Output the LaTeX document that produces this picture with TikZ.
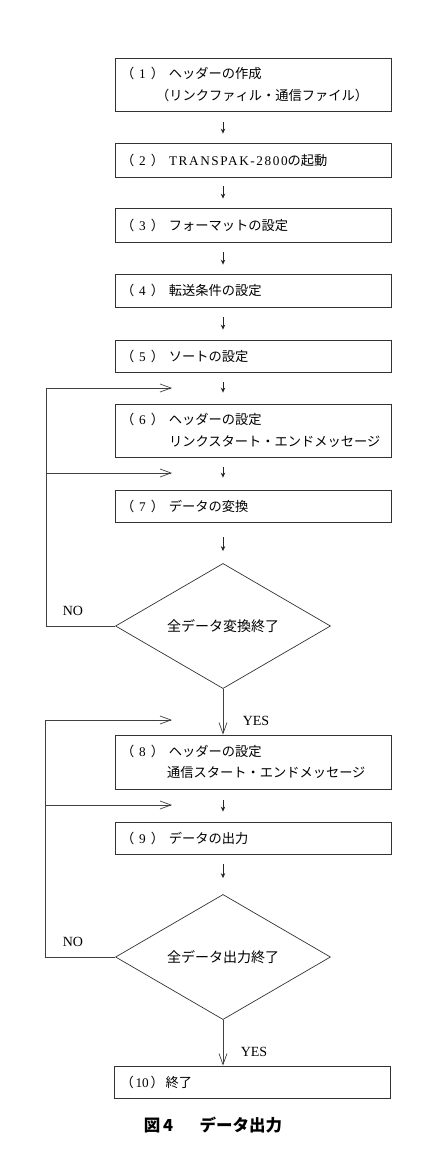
\documentclass[tikz,border=0pt]{standalone}
\usepackage{fontspec}
\setmainfont{Liberation Serif}
\newfontfamily\cjk{Noto Sans CJK JP}
\usetikzlibrary{shapes.geometric,arrows.meta}
\newcommand\pre[1]{\makebox[48pt][l]{（\hfil{\rmfamily #1}\hfil）}}
\tikzset{
  box/.style={draw=black!80, line width=0.8pt, rectangle, minimum width=276pt,
    text width=264pt, inner xsep=6pt, inner ysep=2pt, align=left,
    font=\cjk\fontsize{13.25}{21.5}\selectfont},
  dec/.style={draw=black!80, line width=0.7pt, diamond, minimum width=215pt,
    minimum height=124pt, inner sep=0pt, font=\cjk\fontsize{14}{16}\selectfont},
  flow/.style={draw=black!85, line width=0.8pt, -{Stealth[length=5pt,width=4.5pt]}},
  back/.style={draw=black!75, line width=0.7pt, -{Straight Barb[length=11pt,width=8pt]}},
  lbl/.style={font=\fontsize{14}{16}\selectfont}
}
\begin{document}
\begin{tikzpicture}[x=1pt,y=-1pt]
\useasboundingbox (0,0) rectangle (439,1170);
\coordinate (ax) at (223,0);
\coordinate (lx1) at (46,0);
\coordinate (lx2) at (45,0);
\node[box, minimum height=53pt] (b1) at (253,84.5) {\pre{1}ヘッダーの作成\\\hspace*{35pt}（リンクファィル・通信ファイル）};
\node[box, minimum height=34pt] (b2) at (253,160) {\pre{2}{\rmfamily\addfontfeature{LetterSpace=12}TRANSPAK-2800}の起動};
\node[box, minimum height=34pt] (b3) at (253,225) {\pre{3}フォーマットの設定};
\node[box, minimum height=33pt] (b4) at (253,290.5) {\pre{4}転送条件の設定};
\node[box, minimum height=32pt] (b5) at (253,356) {\pre{5}ソートの設定};
\node[box, minimum height=53pt] (b6) at (253,430.5) {\pre{6}ヘッダーの設定\\\hspace*{48pt}リンクスタート・エンドメッセージ};
\node[box, minimum height=32pt] (b7) at (253,506) {\pre{7}データの変換};
\node[dec] (d1) at (223,626) {全データ変換終了};
\node[box, minimum height=54pt] (b8) at (253,762) {\pre{8}ヘッダーの設定\\\hspace*{46pt}通信スタート・エンドメッセージ};
\node[box, minimum height=32pt] (b9) at (253,838) {\pre{9}データの出力};
\node[dec, minimum height=122pt] (d2) at (223,957) {全データ出力終了};
\node[box, minimum height=32pt] (b10) at (252.5,1082) {\makebox[45pt][l]{（\hfil{\rmfamily 10}\hfil）}終了};

\draw[flow, shorten <=11pt, shorten >=9pt] (b1.south -| ax) -- (b2.north -| ax);
\draw[flow, shorten <=9pt, shorten >=9pt] (b2.south -| ax) -- (b3.north -| ax);
\draw[flow, shorten <=10pt, shorten >=9pt] (b3.south -| ax) -- (b4.north -| ax);
\draw[flow, shorten <=10pt, shorten >=10pt] (b4.south -| ax) -- (b5.north -| ax);
\draw[flow, shorten <=10pt, shorten >=11pt] (b5.south -| ax) -- (b6.north -| ax);
\draw[flow, shorten <=10pt, shorten >=12pt] (b6.south -| ax) -- (b7.north -| ax);
\draw[flow, shorten <=15pt, shorten >=12pt] (b7.south -| ax) -- (d1.north);
\draw[flow, shorten <=11pt, shorten >=10pt] (b8.south -| ax) -- (b9.north -| ax);
\draw[flow, shorten <=10pt, shorten >=16pt] (b9.south -| ax) -- (d2.north);

\draw[back] (d1.south) -- (b8.north -| d1.south);
\draw[back] (d2.south) -- (b10.north -| d2.south);

\coordinate (l1a) at (172,388);
\coordinate (l1b) at (172,473);
\coordinate (l2a) at (172,720);
\coordinate (l2b) at (172,805);
\draw[back] (d1.west) -| (lx1 |- l1a) -- (l1a);
\draw[back] (lx1 |- l1b) -- (l1b);
\draw[back] (d2.west) -| (lx2 |- l2a) -- (l2a);
\draw[back] (lx2 |- l2b) -- (l2b);

\node[lbl] (no1) at (73,611) {NO};
\node[lbl] (no2) at (73,942) {NO};
\node[lbl] (yes1) at (256,721) {YES};
\node[lbl] (yes2) at (254,1052) {YES};
\node[font=\cjk\bfseries\fontsize{16.5}{18}\selectfont] (cap) at (213,1125) {図\,4\hspace{1.6em}データ出力};
\end{tikzpicture}
\end{document}
